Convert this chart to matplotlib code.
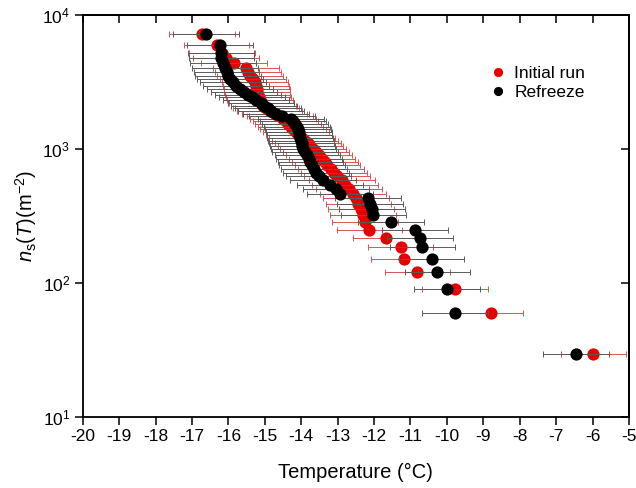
import matplotlib.pyplot as plt
from matplotlib.ticker import FixedLocator, NullLocator

plt.rcParams['font.family'] = ['Liberation Sans', 'DejaVu Sans']
plt.rcParams['mathtext.fontset'] = 'custom'
plt.rcParams['mathtext.rm'] = 'Liberation Sans'
plt.rcParams['mathtext.it'] = 'Liberation Sans:italic'

# ice nucleation site density (m^-2), one level per frozen droplet
ns = [29.4, 59.3, 89.7, 120.7, 152.2, 184.3, 217.0, 250.3, 284.3, 318.9,
      354.3, 390.3, 427.2, 464.8, 503.2, 542.5, 582.7, 623.9, 666.1, 709.2,
      753.5, 799.0, 845.6, 893.5, 942.8, 993.5, 1045.7, 1099.6, 1155.1, 1212.5,
      1271.8, 1333.1, 1396.8, 1462.8, 1531.4, 1602.8, 1677.2, 1755.0, 1836.4, 1921.7,
      2011.4, 2106.0, 2206.0, 2312.0, 2424.9, 2545.6, 2675.2, 2815.2, 2967.4, 3134.1,
      3318.4, 3524.5, 3758.0, 4027.7, 4346.6, 4736.9, 5240.1, 5949.4, 7161.8]

t_initial = [-5.98, -8.80, -9.78, -10.81, -11.18, -11.27, -11.68, -12.13, -12.25, -12.30,
             -12.36, -12.43, -12.50, -12.58, -12.69, -12.80, -12.88, -13.02, -13.10, -13.18,
             -13.28, -13.35, -13.43, -13.51, -13.59, -13.68, -13.75, -13.81, -13.90, -13.98,
             -14.06, -14.14, -14.22, -14.29, -14.36, -14.43, -14.50, -14.58, -14.73, -14.87,
             -14.97, -15.04, -15.09, -15.13, -15.17, -15.20, -15.21, -15.22, -15.24, -15.27,
             -15.32, -15.41, -15.46, -15.52, -15.85, -16.07, -16.17, -16.32, -16.72]

t_refreeze = [-6.45, -9.78, -9.99, -10.26, -10.42, -10.67, -10.74, -10.88, -11.53, -12.02,
              -12.06, -12.11, -12.17, -12.93, -13.05, -13.21, -13.40, -13.52, -13.60, -13.65,
              -13.70, -13.75, -13.79, -13.83, -13.90, -13.94, -13.97, -13.99, -14.01, -14.03,
              -14.05, -14.06, -14.09, -14.12, -14.17, -14.23, -14.28, -14.53, -14.69, -14.83,
              -14.91, -15.02, -15.10, -15.24, -15.35, -15.46, -15.57, -15.68, -15.79, -15.87,
              -15.96, -16.01, -16.05, -16.09, -16.15, -16.19, -16.20, -16.23, -16.62]

t_err = 0.9

x_ticks = list(range(-20, -4))
y_ticks = [10, 100, 1000, 10000]
y_ticklabels = ['$10^1$', '$10^2$', '$10^3$', '$10^4$']

fig = plt.figure(figsize=(6.36, 4.88), dpi=100)
ax = fig.add_axes([0.130, 0.1455, 0.859, 0.824])

eb_r = ax.errorbar(t_initial, ns, xerr=t_err, fmt='o', color='#e80000', ms=8.8,
                   mec='none', ecolor='#e05050', elinewidth=0.7, capsize=2.5,
                   capthick=0.7, zorder=2)
eb_b = ax.errorbar(t_refreeze, ns, xerr=t_err, fmt='o', color='black', ms=8.8,
                   mec='none', ecolor='#5a5a5a', elinewidth=0.7, capsize=2.5,
                   capthick=0.7, zorder=3)

ax.set_yscale('log')
ax.set_xlim(-20, -5)
ax.set_ylim(10, 10000)
ax.xaxis.set_major_locator(FixedLocator(x_ticks))
ax.set_xticklabels([str(v) for v in x_ticks])
ax.yaxis.set_major_locator(FixedLocator(y_ticks))
ax.yaxis.set_minor_locator(NullLocator())
ax.set_yticklabels(y_ticklabels)
ax.tick_params(axis='both', which='major', direction='out', length=6, width=1.1,
               labelsize=12.5, pad=3)

for s in ax.spines.values():
    s.set_linewidth(1.3)

top = ax.secondary_xaxis('top')
top.xaxis.set_major_locator(FixedLocator(x_ticks))
top.tick_params(direction='in', length=6, width=1.1, labeltop=False)
right = ax.secondary_yaxis('right')
right.yaxis.set_major_locator(FixedLocator(y_ticks))
right.yaxis.set_minor_locator(NullLocator())
right.tick_params(direction='in', length=6, width=1.1, labelright=False)
for sec in (top, right):
    for s in sec.spines.values():
        s.set_linewidth(1.3)

ax.set_xlabel('Temperature (°C)', fontsize=14.5, labelpad=13)
ax.set_ylabel(r'$\mathit{n}_\mathrm{s}(\mathit{T})$(m$^{-2}$)', fontsize=14.5, labelpad=2)

ax.legend([eb_r[0], eb_b[0]], ['Initial run', 'Refreeze'], loc='upper left',
          bbox_to_anchor=(0.73, 0.895), frameon=False, fontsize=12.5, markerscale=0.75,
          handlelength=0.9, handletextpad=0.5, labelspacing=0.25, borderpad=0)

fig.savefig('out.png', dpi=100)
